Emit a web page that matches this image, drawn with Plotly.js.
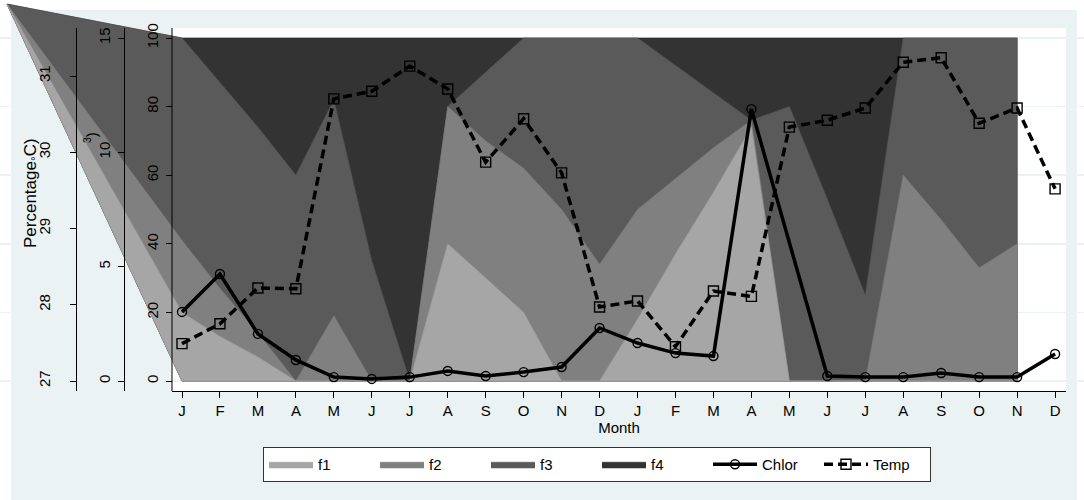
<!DOCTYPE html>
<html><head><meta charset="utf-8">
<script src="https://cdn.plot.ly/plotly-3.0.1.min.js"></script>
<style>html,body{margin:0;padding:0;background:#fff;}#chart{width:1084px;height:500px;}</style>
</head><body><div id="chart"></div>
<script>
// ---------------- DATA ----------------
const months = ['J','F','M','A','M','J','J','A','S','O','N','D','J','F','M','A','M','J','J','A','S','O','N','D'];
const monthIndex = months.map((m, i) => i);
// Chlorophyll (left 2nd axis, 0-15); one missing month (connected over)
const chlor = [3.02,4.68,2.06,0.92,0.17,0.09,0.17,0.44,0.22,0.39,0.61,2.32,1.66,1.22,1.09,11.89,null,0.22,0.17,0.17,0.35,0.17,0.17,1.18];
// Temperature (left 3rd axis, 27-31 C)
const temp = [27.49,27.75,28.22,28.21,30.70,30.80,31.13,30.83,29.87,30.44,29.73,27.97,28.05,27.45,28.18,28.11,30.33,30.42,30.58,31.18,31.24,30.38,30.58,29.52];
// Percentage shares f1..f4 (first 23 months, J .. N of year 2)
const f1 = [20,13,7,0,0,0,0,40,30,20,0,0,18,37,55,74,0,0,0,0,0,0,0];
const f2 = [21,14,7,0,19,0,0,40,40,42,50,34,32,22,13,2,0,0,0,60,47,33,40];
const f3 = [59,60,60,60,63,35,0,0,20,38,50,66,50,33,16,0,80,53,25,40,53,67,60];
const f4 = [0,13,26,40,18,65,100,20,10,0,0,0,0,8,16,24,20,47,75,0,0,0,0];
// the reference's area polygons all start from one stray vertex, up-left of the plot (month index, percent)
const areaPolygonStart = [-4.61, 109.9];

const yTicksPct = [0,20,40,60,80,100];
const yTicksChlor = [0,5,10,15];
const yTicksTemp = [27,28,29,30,31];

// ---------------- LAYOUT GEOMETRY (pixels) ----------------
const W = 1084, H = 500;
const plotL = 172, plotR = 1066, plotT = 28, plotB = 391;
const x0px = 182, dxpx = 37.96;
const zeroPx = 381;
const pctPx = 3.43, chlPx = 22.867, tmpPx = 76.25, tmpBase = 27;

const xMainRange = [(plotL - x0px)/dxpx, (plotR - x0px)/dxpx];
const xFullRange = [(0 - x0px)/dxpx, (W - x0px)/dxpx];
const pctFullRange = [(zeroPx - H)/pctPx, (zeroPx - 0)/pctPx];
const chlRange = [(zeroPx - plotB)/chlPx, (zeroPx - plotT)/chlPx];
const tmpRange = [tmpBase + (zeroPx - plotB)/tmpPx, tmpBase + (zeroPx - plotT)/tmpPx];
const yDomain = [1 - plotB/H, 1 - plotT/H];

// ---------------- TRACES ----------------
const nA = f1.length;
const aIdx = monthIndex.slice(0, nA);
const cum1 = f1.slice();
const cum2 = cum1.map((v, i) => v + f2[i]);
const cum3 = cum2.map((v, i) => v + f3[i]);
const cum4 = cum3.map((v, i) => v + f4[i]);

function areaTrace(name, cum, fill, edge, rank) {
  return {
    type: 'scatter', mode: 'lines', name: name, legendrank: rank,
    x: [areaPolygonStart[0]].concat(aIdx, [aIdx[nA-1], aIdx[0], areaPolygonStart[0]]),
    y: [areaPolygonStart[1]].concat(cum, [0, 0, areaPolygonStart[1]]),
    fill: 'toself', fillcolor: fill,
    line: {color: edge, width: 0.6},
    xaxis: 'x', yaxis: 'y', hoverinfo: 'skip'
  };
}

const traces = [
  areaTrace('f4', cum4, '#333333', '#2a2a2a', 4),
  areaTrace('f3', cum3, '#5a5a5a', '#555555', 3),
  areaTrace('f2', cum2, '#808080', '#7a7a7a', 2),
  areaTrace('f1', cum1, '#a6a6a6', '#9e9e9e', 1),
  {
    type: 'scatter', mode: 'lines+markers', name: 'Chlor', legendrank: 5,
    x: monthIndex, y: chlor, connectgaps: true,
    line: {color: '#000', width: 3.5},
    marker: {symbol: 'circle-open', size: 9, color: '#000', line: {width: 1.4, color: '#000'}},
    xaxis: 'x2', yaxis: 'y3'
  },
  {
    type: 'scatter', mode: 'lines+markers', name: 'Temp', legendrank: 6,
    x: monthIndex, y: temp,
    line: {color: '#000', width: 3.5, dash: '9px,5px'},
    marker: {symbol: 'square-open', size: 10, color: '#000', line: {width: 1.4, color: '#000'}},
    xaxis: 'x2', yaxis: 'y4'
  }
];

const FONT = 'Liberation Sans, Arial, Helvetica, sans-serif';
const bg = '#eaf2f3';

const yCommon = {
  visible: true,
  ticks: 'outside', ticklen: 6, tickcolor: '#000', tickwidth: 1,
  showline: true, linecolor: '#000', linewidth: 1,
  showgrid: false, zeroline: false, tickangle: -90,
  tickfont: {family: FONT, size: 15, color: '#000'}, tickmode: 'array'
};

const layout = {
  width: W, height: H, autosize: false,
  margin: {l: 0, r: 0, t: 0, b: 0, pad: 0},
  paper_bgcolor: '#ffffff', plot_bgcolor: 'rgba(0,0,0,0)',
  font: {family: FONT, color: '#000'},
  showlegend: true,
  // full-page axes carrying the stacked areas; the y one is the Percentage axis (drawn at the plot's left edge)
  xaxis: {domain: [0, 1], range: xFullRange, showgrid: false, zeroline: false,
          showticklabels: false, ticks: '', showline: false, anchor: 'y', fixedrange: true},
  yaxis: Object.assign({}, yCommon, {domain: [0, 1], range: pctFullRange, anchor: 'free', position: plotL/W,
          side: 'left', showline: false, showgrid: true, gridcolor: bg, gridwidth: 1.5,
          tickvals: yTicksPct, ticklabelstandoff: 2, fixedrange: true}),
  xaxis2: {visible: true, domain: [plotL/W, plotR/W], range: xMainRange, anchor: 'y3',
           tickmode: 'array', tickvals: monthIndex, ticktext: months,
           ticks: 'outside', ticklen: 6, tickcolor: '#000', showline: true, linecolor: '#000', linewidth: 1,
           showgrid: false, zeroline: false, tickfont: {family: FONT, size: 15, color: '#000'},
           title: {text: 'Month', font: {family: FONT, size: 15, color: '#000'}, standoff: 1}},
  yaxis3: Object.assign({}, yCommon, {domain: yDomain, anchor: 'free', position: 124/W, side: 'left',
           range: chlRange, tickvals: yTicksChlor, ticklabelstandoff: 2}),
  yaxis4: Object.assign({}, yCommon, {domain: yDomain, anchor: 'free', position: 76/W, side: 'left',
           range: tmpRange, tickvals: yTicksTemp, ticklabelstandoff: 14}),
  shapes: [
    {type: 'rect', xref: 'paper', yref: 'paper', x0: 11/W, x1: 1077/W, y0: 0, y1: 1 - 10/H,
     fillcolor: bg, line: {width: 0}, layer: 'below'},
    {type: 'rect', xref: 'paper', yref: 'paper', x0: plotL/W, x1: plotR/W, y0: 1 - plotB/H, y1: 1 - plotT/H,
     fillcolor: '#ffffff', line: {width: 0}, layer: 'below'},
    // axis line of the Percentage axis along the plot region's left edge
    {type: 'line', xref: 'paper', yref: 'paper', x0: plotL/W, x1: plotL/W, y0: 1 - plotB/H, y1: 1 - plotT/H,
     line: {color: '#000', width: 1}, layer: 'above'}
  ],
  annotations: [
    {text: 'Percentage<sub>°</sub>C)', textangle: -90, xref: 'paper', yref: 'paper',
     x: 32/W, y: 1 - 193/H, xanchor: 'center', yanchor: 'middle', showarrow: false,
     font: {family: FONT, size: 17, color: '#000'}},
    {text: '<sup>3</sup>)', textangle: -90, xref: 'paper', yref: 'paper',
     x: 90/W, y: 1 - 138/H, xanchor: 'center', yanchor: 'middle', showarrow: false,
     font: {family: FONT, size: 15, color: '#000'}}
  ],
  legend: {orientation: 'h', x: 263/W, y: 1 - 447/H, xanchor: 'left', yanchor: 'top',
           bgcolor: '#ffffff', bordercolor: '#333', borderwidth: 1, entrywidth: 52,
           font: {family: FONT, size: 15, color: '#000'}, itemwidth: 44, traceorder: 'normal'}
};

Plotly.newPlot('chart', traces, layout, {displayModeBar: false, staticPlot: true});
</script></body></html>
